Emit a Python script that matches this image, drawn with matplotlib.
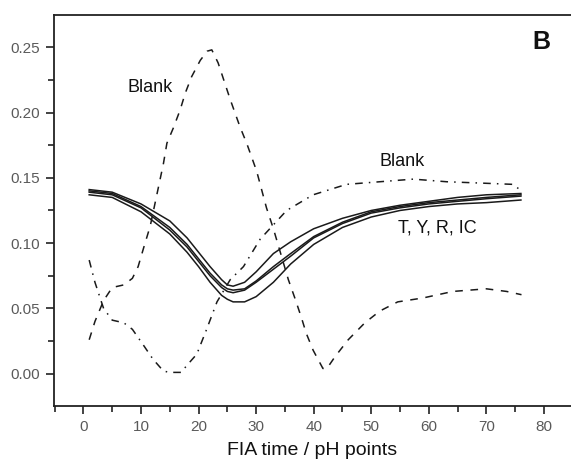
import matplotlib
matplotlib.use("Agg")
import matplotlib.pyplot as plt
from matplotlib.ticker import MultipleLocator, FormatStrFormatter

plt.rcParams['font.family'] = ['Liberation Sans', 'DejaVu Sans']

# Blank (dashed) curve
blank_dash_x = [1, 2, 3.5, 5, 7, 8.5, 9.5, 10.5, 11.6, 12.7, 13.9, 14.5, 15.6, 16.8, 17.7,
                18.8, 20.3, 21.5, 22.3, 23.4, 25.5, 27.2, 28.4, 30.1, 31.8, 33, 35.6,
                36.8, 37.9, 38.7, 39.9, 41.6, 42.3, 43.7, 46, 48.9, 51.5, 54.6, 59,
                64.2, 70, 73.5, 76.1]
blank_dash_y = [0.026, 0.040, 0.056, 0.066, 0.068, 0.073, 0.082, 0.097, 0.113, 0.136,
                0.161, 0.1765, 0.188, 0.202, 0.215, 0.2275, 0.240, 0.247, 0.248, 0.238,
                0.210, 0.189, 0.176, 0.155, 0.127, 0.111, 0.072, 0.057, 0.0425, 0.031,
                0.018, 0.004, 0.004, 0.013, 0.026, 0.039, 0.048, 0.055, 0.058, 0.063,
                0.065, 0.063, 0.0605]

# Blank (dash-dot) curve
blank_dd_x = [1, 2, 3.5, 5, 7, 8.5, 10.4, 12.1, 13.9, 15, 17, 17.9, 19.7, 21.4, 23.2,
              25.5, 27.8, 30.7, 35.3, 39.9, 45.7, 51.5, 57.3, 63.1, 68.9, 74.6, 75.8]
blank_dd_y = [0.087, 0.070, 0.050, 0.041, 0.039, 0.034, 0.022, 0.011, 0.002, 0.001,
              0.001, 0.006, 0.015, 0.034, 0.055, 0.072, 0.082, 0.103, 0.125, 0.137,
              0.145, 0.147, 0.149, 0.147, 0.146, 0.145, 0.141]

# T, Y, R, IC curves (solid)
tyric_x = [1, 5, 10, 15, 18, 20, 22, 24, 25, 26, 28, 30, 33, 36, 40, 45, 50, 55, 60, 65, 70, 76]
curve_t = [0.141, 0.139, 0.130, 0.117, 0.104, 0.093, 0.082, 0.072, 0.068, 0.067, 0.070,
           0.078, 0.092, 0.101, 0.111, 0.119, 0.125, 0.129, 0.132, 0.135, 0.137, 0.138]
curve_y = [0.140, 0.138, 0.128, 0.112, 0.099, 0.088, 0.077, 0.068, 0.065, 0.064, 0.065,
           0.071, 0.082, 0.092, 0.105, 0.116, 0.124, 0.128, 0.131, 0.133, 0.135, 0.137]
curve_r = [0.139, 0.137, 0.127, 0.110, 0.097, 0.086, 0.075, 0.066, 0.063, 0.062, 0.064,
           0.070, 0.080, 0.090, 0.104, 0.115, 0.123, 0.127, 0.130, 0.132, 0.134, 0.136]
curve_ic = [0.137, 0.135, 0.124, 0.107, 0.093, 0.082, 0.070, 0.060, 0.057, 0.055, 0.055,
            0.059, 0.070, 0.084, 0.099, 0.112, 0.120, 0.125, 0.128, 0.130, 0.131, 0.133]

fig = plt.figure(figsize=(5.71, 4.67), dpi=100)
ax = fig.add_axes([0.0937, 0.1313, 0.9063, 0.8366])

ink = '#1a1a1a'
ax.plot(blank_dash_x, blank_dash_y, color=ink, lw=1.1, dashes=(5, 5))
ax.plot(blank_dd_x, blank_dd_y, color=ink, lw=1.1, dashes=(5, 4, 1, 4))
for ys in (curve_t, curve_y, curve_r, curve_ic):
    ax.plot(tyric_x, ys, color=ink, lw=1.1)

ax.set_xlim(-5.2, 84.7)
ax.set_ylim(-0.0245, 0.2747)
ax.xaxis.set_major_locator(MultipleLocator(10))
ax.xaxis.set_minor_locator(MultipleLocator(5))
ax.yaxis.set_major_locator(MultipleLocator(0.05))
ax.yaxis.set_minor_locator(MultipleLocator(0.025))
ax.yaxis.set_major_formatter(FormatStrFormatter('%.2f'))

ax.spines['right'].set_visible(False)
for s in ('left', 'bottom', 'top'):
    ax.spines[s].set_linewidth(1.3)
    ax.spines[s].set_color('#222222')
ax.tick_params(which='major', direction='out', length=6, width=1.2, color='#222222',
               labelsize=11, labelcolor='#5a5a5a', pad=4)
ax.tick_params(which='minor', direction='out', length=4, width=1.2, color='#222222')
ax.tick_params(top=False, right=False, which='both')

ax.set_xlabel('FIA time / pH points', fontsize=14, color='#111111', labelpad=6)

ax.text(7.6, 0.2188, 'Blank', fontsize=13, color='#111111', va='center')
ax.text(51.5, 0.1622, 'Blank', fontsize=13, color='#111111', va='center')
ax.text(54.6, 0.1116, 'T, Y, R, IC', fontsize=13, color='#111111', va='center')
ax.text(79.5, 0.2537, 'B', fontsize=18, fontweight='bold', color='#111111',
        ha='center', va='center')

fig.savefig('out.png', dpi=100)
